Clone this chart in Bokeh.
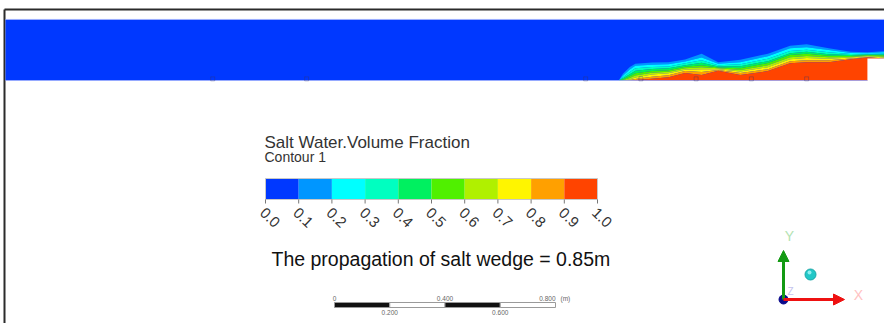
import numpy as np
from bokeh.plotting import figure
from bokeh.models import Range1d, Arrow, NormalHead
from bokeh.embed import file_html
from bokeh.resources import INLINE
from bokeh.core.properties import value

# ---------------------------------------------------------------- data
# contour levels of the salt-water volume fraction and their colours
levels = [0.0, 0.1, 0.2, 0.3, 0.4, 0.5, 0.6, 0.7, 0.8, 0.9, 1.0]
level_labels = ["0.0", "0.1", "0.2", "0.3", "0.4", "0.5", "0.6", "0.7", "0.8", "0.9", "1.0"]
palette = ["#0038ff", "#0096ff", "#00ffff", "#00ffc0", "#00f060",
           "#50f000", "#b0f000", "#fff500", "#ffa000", "#ff4400"]

# flume geometry (m)
domain_length = 3.25
domain_depth = 0.221
step_x = 3.12        # start of the raised bed at the sea end
step_h = 0.080

# stations along the flume (m) and the height (m) of each isoline above the bed
station_x = [2.22, 2.235, 2.26, 2.28, 2.34, 2.40, 2.46, 2.52, 2.58, 2.66,
             2.76, 2.84, 2.90, 2.98, 3.06, 3.12, 3.18]
iso_01 = [0, 0.024, 0.049, 0.061, 0.065, 0.066, 0.076, 0.097, 0.066, 0.075,
          0.097, 0.126, 0.131, 0.117, 0.104, 0.102, 0.106]
iso_02 = [0, 0.017, 0.040, 0.053, 0.057, 0.059, 0.069, 0.083, 0.061, 0.066,
          0.088, 0.117, 0.120, 0.110, 0.100, 0.099, 0.102]
iso_03 = [0, 0.012, 0.031, 0.044, 0.049, 0.051, 0.062, 0.073, 0.055, 0.059,
          0.079, 0.107, 0.111, 0.102, 0.096, 0.096, 0.098]
iso_04 = [0, 0.008, 0.023, 0.035, 0.042, 0.044, 0.055, 0.064, 0.051, 0.052,
          0.070, 0.099, 0.104, 0.095, 0.092, 0.094, 0.094]
iso_05 = [0, 0.004, 0.015, 0.026, 0.034, 0.037, 0.050, 0.055, 0.047, 0.044,
          0.063, 0.092, 0.097, 0.090, 0.089, 0.092, 0.091]
iso_06 = [0, 0.001, 0.009, 0.018, 0.028, 0.032, 0.044, 0.048, 0.044, 0.038,
          0.055, 0.084, 0.089, 0.084, 0.085, 0.090, 0.087]
iso_07 = [0, 0, 0.004, 0.011, 0.022, 0.026, 0.039, 0.041, 0.041, 0.033,
          0.048, 0.077, 0.081, 0.079, 0.083, 0.088, 0.083]
iso_08 = [0, 0, 0.002, 0.005, 0.014, 0.019, 0.034, 0.031, 0.038, 0.027,
          0.041, 0.070, 0.073, 0.073, 0.080, 0.085, 0.080]
iso_09 = [0, 0, 0, 0.002, 0.006, 0.012, 0.027, 0.020, 0.035, 0.020,
          0.034, 0.062, 0.066, 0.066, 0.077, 0.083, 0.080]
bed = [0] * len(station_x)

# monitor points on the bed (m)
probe_x = [0.75, 1.09, 2.10, 2.30, 2.50, 2.70, 2.90]

# scale bar (m)
scale_values = [0.0, 0.2, 0.4, 0.6, 0.8]
scale_labels = ["0", "0.200", "0.400", "0.600", "0.800"]

wedge_length = 0.85

# ---------------------------------------------------------------- page layout
W, H = 884, 323
PX_PER_M = 276.25
X0_PX, BED_PX = 5, 80          # where the flume's left end and bed sit on the page


def sx(px):
    return (px - X0_PX) / PX_PER_M


def sy(py):
    return (BED_PX - py) / PX_PER_M


FONT = value("Liberation Sans")

p = figure(width=W, height=H, output_backend="svg", toolbar_location=None,
           x_range=Range1d(sx(0), sx(W)), y_range=Range1d(sy(H), sy(0)),
           x_axis_type=None, y_axis_type=None, min_border=0,
           min_border_left=0, min_border_right=0, min_border_top=0, min_border_bottom=0,
           outline_line_color=None, background_fill_color="white",
           border_fill_color="white")

# window frame
p.line(x=[sx(4), sx(4)], y=[sy(9), sy(H + 5)], line_color="#2b2b2b", line_width=2)
p.line(x=[sx(4), sx(W + 5)], y=[sy(9), sy(9)], line_color="#2b2b2b", line_width=2)

# fresh-water body
p.quad(left=0, right=domain_length, bottom=0, top=domain_depth,
       fill_color=palette[0], line_color=None)

# salt-wedge contour bands
isolines = [iso_01, iso_02, iso_03, iso_04, iso_05, iso_06, iso_07, iso_08, iso_09, bed]
for k in range(9):
    p.varea(x=station_x, y1=isolines[k + 1], y2=isolines[k],
            fill_color=palette[k + 1])

# raised bed beyond the step
p.quad(left=step_x, right=domain_length + 0.1, bottom=sy(H), top=step_h,
       fill_color="white", line_color=None)

# flume edges
p.line(x=[0, domain_length], y=[domain_depth, domain_depth],
       line_color="#9fb0ff", line_width=1)
p.line(x=[0, step_x], y=[0, 0], line_color="#9fb0ff", line_width=1, line_alpha=0.7)

# monitor points
p.scatter(x=probe_x, y=[0.006] * len(probe_x), marker="square", size=4,
          fill_color=None, line_color="#35356a", line_alpha=0.35, line_width=1)

# ---------------------------------------------------------------- legend
CB_L, CB_R, CB_T, CB_B = 265, 597, 178, 199
cb_edges = [sx(CB_L) + v * (sx(CB_R) - sx(CB_L)) for v in levels]

p.text(x=[sx(264)], y=[sy(142)], text=["Salt Water.Volume Fraction"],
       text_font=FONT, text_font_size="17px", text_color="#333333",
       text_align="left", text_baseline="middle")
p.text(x=[sx(264)], y=[sy(156)], text=["Contour 1"],
       text_font=FONT, text_font_size="14px", text_color="#333333",
       text_align="left", text_baseline="middle")

p.quad(left=cb_edges[:-1], right=cb_edges[1:], top=sy(CB_T), bottom=sy(CB_B),
       fill_color=palette, line_color=None)
p.quad(left=cb_edges[0], right=cb_edges[-1], top=sy(CB_T), bottom=sy(CB_B),
       fill_color=None, line_color="#c8c8c8", line_width=1)
p.segment(x0=cb_edges, y0=[sy(CB_B)] * len(cb_edges),
          x1=cb_edges, y1=[sy(CB_B + 4)] * len(cb_edges),
          line_color="#777777", line_width=1)
p.text(x=[e - sx(X0_PX + 3) for e in cb_edges], y=[sy(210)] * len(cb_edges),
       text=level_labels, angle=-0.76, text_font=FONT, text_font_size="15px",
       text_color="#333333", text_align="left", text_baseline="middle")

p.text(x=[sx(271)], y=[sy(258)],
       text=[f"The propagation of salt wedge = {wedge_length}m"],
       text_font=FONT, text_font_size="19.5px", text_color="#111111",
       text_align="left", text_baseline="middle")

# ---------------------------------------------------------------- scale bar
SB_X0 = sx(334)
SB_T, SB_B = sy(302), sy(307)
sb = [SB_X0 + v for v in scale_values]
p.quad(left=sb[:-1], right=sb[1:], top=SB_T, bottom=SB_B,
       fill_color=["#111111", "white", "#111111", "white"],
       line_color="#9a9a9a", line_width=1)
top_idx = [0, 2]
bot_idx = [1, 3]
SB_FONT = "6.5px"
p.text(x=[sb[i] for i in top_idx], y=[sy(298)] * 2,
       text=[scale_labels[i] for i in top_idx], text_font=FONT,
       text_font_size=SB_FONT, text_color="#666666", text_align="center",
       text_baseline="middle")
p.text(x=[sb[4]], y=[sy(298)], text=[scale_labels[4]], text_font=FONT,
       text_font_size=SB_FONT, text_color="#666666", text_align="right",
       text_baseline="middle")
p.text(x=[sb[4] + sx(X0_PX + 5)], y=[sy(298)], text=["(m)"], text_font=FONT,
       text_font_size=SB_FONT, text_color="#666666", text_align="left",
       text_baseline="middle")
p.text(x=[sb[i] for i in bot_idx], y=[sy(312)] * 2,
       text=[scale_labels[i] for i in bot_idx], text_font=FONT,
       text_font_size=SB_FONT, text_color="#666666", text_align="center",
       text_baseline="middle")

# ---------------------------------------------------------------- axis triad
OX, OY = sx(783), sy(299)
p.add_layout(Arrow(x_start=OX, y_start=OY, x_end=OX, y_end=sy(250),
                   line_color="#139a13", line_width=3,
                   end=NormalHead(size=11, fill_color="#139a13", line_color="#139a13")))
p.add_layout(Arrow(x_start=OX, y_start=OY, x_end=sx(844), y_end=OY,
                   line_color="#ee1111", line_width=3,
                   end=NormalHead(size=11, fill_color="#ee1111", line_color="#ee1111")))
p.text(x=[sx(790)], y=[sy(291)], text=["Z"], text_font=FONT, text_font_size="10px",
       text_color="#c4c4ee", text_align="center", text_baseline="middle")
p.scatter(x=[OX], y=[OY], size=9, fill_color="#0a0a8c", line_color="#0a0a8c")
p.scatter(x=[sx(810)], y=[sy(274)], size=11, fill_color="#22c8c8", line_color="#1aa8a8")
p.scatter(x=[sx(809)], y=[sy(272)], size=4, fill_color="#8ef0f0", line_color=None)
p.text(x=[sx(789)], y=[sy(235)], text=["Y"], text_font=FONT, text_font_size="14px",
       text_color="#b3e3b3", text_align="center", text_baseline="middle")
p.text(x=[sx(858)], y=[sy(294)], text=["X"], text_font=FONT, text_font_size="14px",
       text_color="#ffc2c2", text_align="center", text_baseline="middle")

open("out.html", "w").write(file_html(p, INLINE))
